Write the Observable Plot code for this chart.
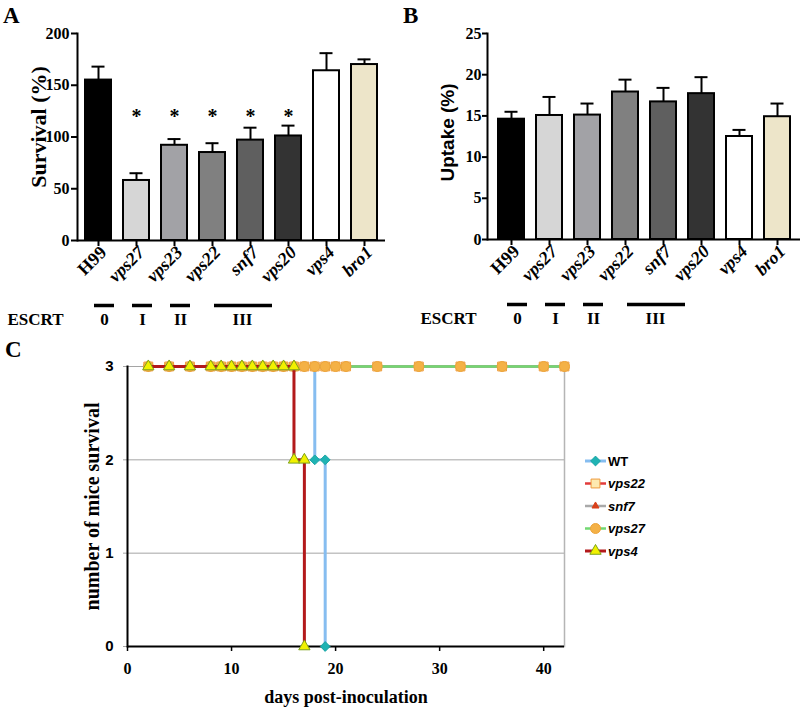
<!DOCTYPE html>
<html><head><meta charset="utf-8">
<script src="https://cdn.jsdelivr.net/npm/d3@7"></script>
<script src="https://cdn.jsdelivr.net/npm/@observablehq/plot@0.6"></script>
<style>
body{margin:0;background:#fff;}
#fig{position:relative;width:800px;height:713px;overflow:hidden;background:#fff;}
.abs{position:absolute;}
.letter{position:absolute;font-family:"Liberation Serif",serif;font-weight:bold;font-size:23px;line-height:23px;color:#000;}
</style></head><body><div id="fig"></div>
<script>
// ---------- Data: panels A and B ----------
const strains = ["H99","vps27","vps23","vps22","snf7","vps20","vps4","bro1"];
const survival = [155,58,92,85,97,101,164,170];
const survivalTop = [168,65,98,94,109,111,181,175];
const uptake = [14.6,15.05,15.1,17.9,16.7,17.7,12.5,14.9];
const uptakeTop = [15.5,17.3,16.5,19.4,18.4,19.7,13.3,16.5];
const significant = ["vps27","vps23","vps22","snf7","vps20"];
const sigLevel = 120;
const survivalTicks = [0,50,100,150,200];
const uptakeTicks = [0,5,10,15,20,25];
const escrtClasses = ["0","I","II","III"];
const escrtFirst = ["vps27","vps23","vps22","snf7"];
const escrtLast = ["vps27","vps23","vps22","vps20"];

// ---------- Data: panel C ----------
const dayTicks = [0,10,20,30,40];
const miceTicks = [0,1,2,3];
const seriesNames = ["WT","vps22","snf7","vps27","vps4"];
const wtDays = [2,4,6,8,9,10,11,12,13,14,15,16,17,18,18,19,19];
const wtMice = [3,3,3,3,3,3,3,3,3,3,3,3,3,3,2,2,0];
const vps22Days = [2,4,6,8,9,10,11,12,13,14,15,16,17,18,19,20,21,24,28,32,36,40,42];
const vps22Mice = [3,3,3,3,3,3,3,3,3,3,3,3,3,3,3,3,3,3,3,3,3,3,3];
const snf7Days = [2,4,6,8,9,10,11,12,13,14,15,16,17,18,19,20,21,24,28,32,36,40,42];
const snf7Mice = [3,3,3,3,3,3,3,3,3,3,3,3,3,3,3,3,3,3,3,3,3,3,3];
const vps27Days = [2,4,6,8,9,10,11,12,13,14,15,16,17,18,19,20,21,24,28,32,36,40,42];
const vps27Mice = [3,3,3,3,3,3,3,3,3,3,3,3,3,3,3,3,3,3,3,3,3,3,3];
const vps4Days = [2,4,6,8,9,10,11,12,13,14,15,16,16,17,17];
const vps4Mice = [3,3,3,3,3,3,3,3,3,3,3,3,2,2,0];

// ---------- Styles ----------
const barColors = ["#000000","#d6d6d6","#a2a2a6","#808080","#5f5f5f","#333333","#ffffff","#ede5c9"];
const seriesStyle = {
  WT:    {line:"#86bdf0", width:3,   symbol:"diamond2", r:4.4, fill:"#1fb3b3", stroke:"#1aa5a5"},
  vps22: {line:"#e23b3b", width:2.5, symbol:"square",   r:5,   fill:"#fde9b0", stroke:"#ee9a3c"},
  snf7:  {line:"#a9a9a9", width:2.5, symbol:"triangle", r:2.6, fill:"#d8401a", stroke:"#d8401a"},
  vps27: {line:"#72d872", width:2.5, symbol:"circle",   r:5,   fill:"#f4b146", stroke:"#eda43a"},
  vps4:  {line:"#b3191b", width:3,   symbol:"triangle", r:4.2, fill:"#f1f100", stroke:"#7da21a"}
};
const serif = "Liberation Serif, Times New Roman, serif";
const sans = "Liberation Sans, Arial, sans-serif";

const fig = document.getElementById("fig");
function place(node, left, top) {
  const d = document.createElement("div");
  d.className = "abs"; d.style.left = left + "px"; d.style.top = top + "px";
  d.appendChild(node); fig.appendChild(d);
}

function barPanel(o) {
  const rows = strains.map((s, i) => ({strain: s, value: o.values[i], top: o.tops[i]}));
  const marks = [
    Plot.barY(rows, {x: "strain", y: "value", fill: "strain", stroke: "#000", strokeWidth: 2}),
    Plot.ruleX(rows, {x: "strain", y1: "value", y2: "top", stroke: "#000", strokeWidth: 2}),
    Plot.tickY(rows, {x: "strain", y: "top", stroke: "#000", strokeWidth: 2, inset: 6.5}),
    Plot.frame({anchor: "left", stroke: "#000", strokeWidth: 2}),
    Plot.ruleY([0], {stroke: "#000", strokeWidth: 2}),
    Plot.axisY(o.ticks, {tickSize: o.tickSize, tickPadding: o.tickPadding, strokeWidth: 2, fontSize: 16, label: null}),
    Plot.axisX({tickSize: 6, strokeWidth: 2, tickFormat: () => "", label: null}),
    Plot.text(strains, {filter: d => d === "H99", x: d => d, text: d => d, frameAnchor: "bottom",
      rotate: -45, textAnchor: "end", dx: o.labDx, dy: o.labDy, fontSize: 18}),
    Plot.text(strains, {filter: d => d !== "H99", x: d => d, text: d => d, frameAnchor: "bottom",
      rotate: -45, textAnchor: "end", dx: o.labDx, dy: o.labDy, fontSize: 18, fontStyle: "italic"}),
    Plot.ruleY(escrtClasses, {filter: d => d !== "III", x1: (d, i) => escrtFirst[i], x2: (d, i) => escrtLast[i], y: () => 0,
      dx: -32, dy: 65, insetLeft: 3, insetRight: 3, stroke: "#000", strokeWidth: 3.5}),
    Plot.ruleY(escrtClasses, {filter: d => d === "III", x1: (d, i) => escrtFirst[i], x2: (d, i) => escrtLast[i], y: () => 0,
      dx: -26, dy: 65, insetLeft: 3, insetRight: 3, stroke: "#000", strokeWidth: 3.5}),
    Plot.text(escrtClasses, {filter: d => d !== "III", x: (d, i) => escrtFirst[i], text: d => d,
      frameAnchor: "bottom", dx: -32, dy: 84, fontSize: 17}),
    Plot.text(escrtClasses, {filter: d => d === "III", x: (d, i) => escrtFirst[i], text: d => d,
      frameAnchor: "bottom", dx: -8, dy: 84, fontSize: 17}),
    Plot.text(["ESCRT"], {text: d => d, frameAnchor: "bottom-left", textAnchor: "start", dx: o.escrtDx, dy: 84, fontSize: 17}),
    Plot.text([o.yTitle], {text: d => d, frameAnchor: "left", textAnchor: "middle", rotate: -90, dx: o.titleDx, dy: o.titleDy,
      fontSize: o.titleSize, fontFamily: o.titleFont})
  ];
  if (o.stars) marks.push(Plot.text(significant, {x: d => d, y: () => sigLevel, text: () => "*", fontSize: 20}));
  return Plot.plot({
    width: 400, height: 340,
    marginLeft: o.marginLeft, marginRight: o.marginRight, marginTop: 33, marginBottom: o.marginBottom,
    x: {domain: strains, paddingInner: 0.32, paddingOuter: o.paddingOuter},
    y: {domain: o.yDomain},
    color: {domain: strains, range: barColors},
    style: {fontFamily: serif, fontWeight: "bold", background: "transparent", overflow: "visible", color: "#000"},
    marks
  });
}

const panelA = barPanel({values: survival, tops: survivalTop, ticks: survivalTicks, yDomain: [0, 200],
  marginLeft: 77, marginRight: 15, marginBottom: 100, paddingOuter: 0.17, tickSize: 6, tickPadding: 2,
  labDx: 9, labDy: 13, escrtDx: -70, yTitle: "Survival (%)", titleDx: -39, titleDy: -10, titleSize: 22,
  titleFont: serif, stars: true});
const panelB = barPanel({values: uptake, tops: uptakeTop, ticks: uptakeTicks, yDomain: [0, 25],
  marginLeft: 87, marginRight: 0, marginBottom: 101, paddingOuter: 0.27, tickSize: 5, tickPadding: 1,
  labDx: 9, labDy: 13, escrtDx: -67, yTitle: "Uptake (%)", titleDx: -40, titleDy: -4, titleSize: 19,
  titleFont: sans, stars: false});
place(panelA, 0, 0);
place(panelB, 400, 0);

// ---------- Panel C ----------
const seriesData = {
  WT: [wtDays, wtMice], vps22: [vps22Days, vps22Mice], snf7: [snf7Days, snf7Mice],
  vps27: [vps27Days, vps27Mice], vps4: [vps4Days, vps4Mice]
};
const seriesMarks = seriesNames.flatMap(name => {
  const [ds, ms] = seriesData[name];
  const rows = ds.map((d, i) => ({day: d, mice: ms[i]}));
  const s = seriesStyle[name];
  return [
    Plot.line(rows, {x: "day", y: "mice", stroke: s.line, strokeWidth: s.width, curve: "linear"}),
    Plot.dot(rows, {x: "day", y: "mice", symbol: () => s.symbol, r: s.r, fill: s.fill, stroke: s.stroke, strokeWidth: 1})
  ];
});
const panelC = Plot.plot({
  width: 800, height: 383,
  marginLeft: 127, marginRight: 236, marginTop: 36, marginBottom: 67,
  x: {domain: [0, 42]},
  y: {domain: [0, 3]},
  symbol: {type: "identity"},
  style: {fontFamily: serif, fontWeight: "bold", background: "transparent", overflow: "visible", color: "#000"},
  marks: [
    Plot.gridY([1, 2, 3], {stroke: "#a5a5a5", strokeOpacity: 1, strokeWidth: 1}),
    Plot.frame({anchor: "right", stroke: "#b5b5b5", strokeWidth: 1.5}),
    Plot.axisY(miceTicks, {tickSize: 4, tickPadding: 10, stroke: "#a5a5a5", fontFamily: sans, fontSize: 15,
      tickFormat: d3.format("d"), label: null}),
    Plot.axisX(dayTicks, {tickSize: 5, tickPadding: 11, strokeWidth: 1.5, fontSize: 16, tickFormat: d3.format("d"), label: null}),
    Plot.frame({anchor: "left", stroke: "#000", strokeWidth: 2}),
    Plot.ruleY([0], {stroke: "#000", strokeWidth: 2}),
    ...seriesMarks,
    Plot.text(["number of mice survival"], {text: d => d, frameAnchor: "left", textAnchor: "middle", rotate: -90, dx: -35, fontSize: 20}),
    Plot.text(["days post-inoculation"], {text: d => d, frameAnchor: "bottom", dy: 56, fontSize: 18})
  ]
});
place(panelC, 0, 330);

// ---------- Legend for panel C ----------
const symbolTypes = {diamond2: d3.symbolDiamond2, square: d3.symbolSquare, triangle: d3.symbolTriangle, circle: d3.symbolCircle};
const leg = d3.create("svg").attr("width", 130).attr("height", 115);
seriesNames.forEach((name, i) => {
  const s = seriesStyle[name];
  const y = 11 + i * 22.5;
  const g = leg.append("g").attr("transform", `translate(0,${y})`);
  g.append("line").attr("x1", 7).attr("x2", 28).attr("stroke", s.line).attr("stroke-width", s.width);
  g.append("path").attr("transform", "translate(17.5,0)")
    .attr("d", d3.symbol(symbolTypes[s.symbol], Math.PI * s.r * s.r)())
    .attr("fill", s.fill).attr("stroke", s.stroke);
  g.append("text").attr("x", 30).attr("dy", "0.36em").text(name)
    .attr("font-family", sans).attr("font-weight", "bold").attr("font-size", 13)
    .attr("font-style", name === "WT" ? "normal" : "italic");
});
place(leg.node(), 578, 450);

// ---------- Panel letters ----------
[["A", 3, 4], ["B", 403, 4], ["C", 5, 338]].forEach(([t, x, y]) => {
  const d = document.createElement("div");
  d.className = "letter"; d.textContent = t; d.style.left = x + "px"; d.style.top = y + "px";
  fig.appendChild(d);
});
</script></body></html>
